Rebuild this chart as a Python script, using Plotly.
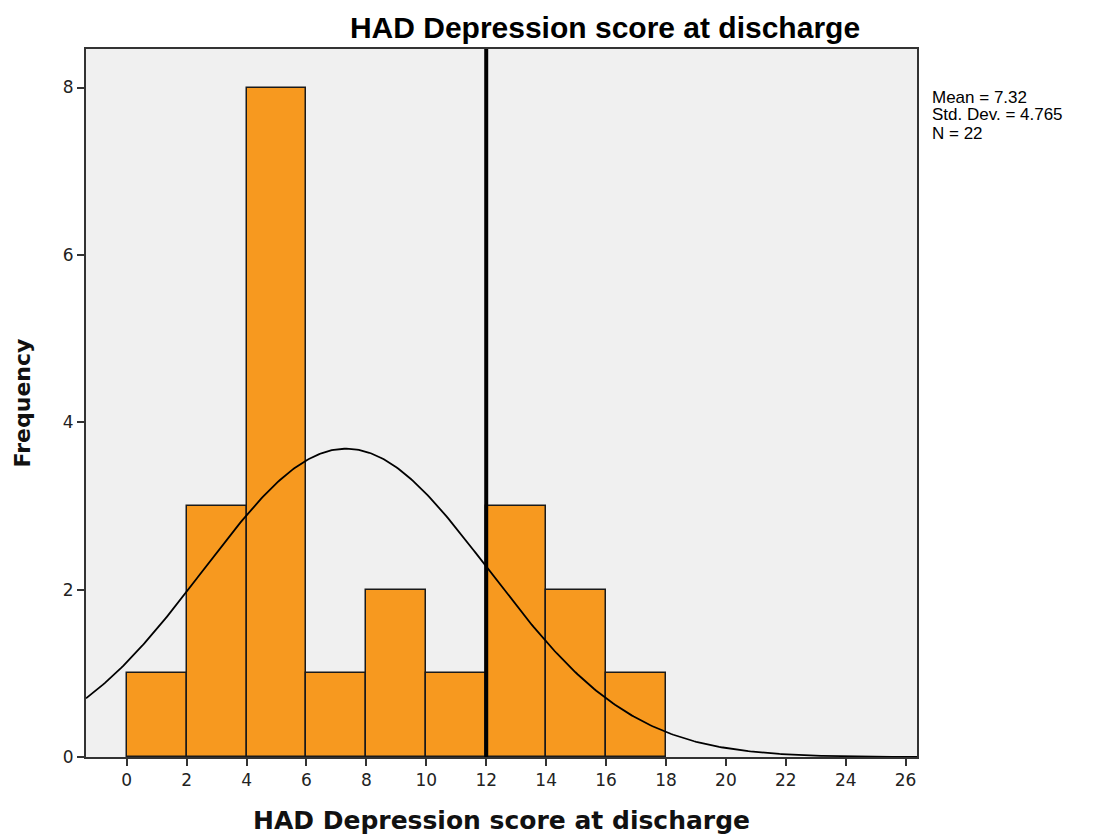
import numpy as np
import plotly.graph_objects as go

bin_starts = [0, 2, 4, 6, 8, 10, 12, 14, 16]
frequencies = [1, 3, 8, 1, 2, 1, 3, 2, 1]
bin_width = 2
mean_val = 7.32
std_val = 4.765
n_val = 22
ref_line_x = 12
x_ticks = list(range(0, 27, 2))
y_ticks = [0, 2, 4, 6, 8]
stats_lines = ["Mean = 7.32", "Std. Dev. = 4.765", "N = 22"]

x_min, x_max = -1.36, 26.38
y_max = 8.46

centers = [s + bin_width / 2 for s in bin_starts]

fig = go.Figure()
fig.add_trace(go.Bar(
    x=centers, y=frequencies, width=[bin_width] * len(centers),
    marker=dict(color="#f7991f", line=dict(color="#1a1a1a", width=1.5)),
    hoverinfo="skip", showlegend=False,
))

xs = np.linspace(x_min, x_max, 400)
ys = n_val * bin_width * np.exp(-0.5 * ((xs - mean_val) / std_val) ** 2) / (std_val * np.sqrt(2 * np.pi))
fig.add_trace(go.Scatter(x=xs, y=ys, mode="lines", line=dict(color="black", width=1.8),
                         hoverinfo="skip", showlegend=False))

fig.add_shape(type="line", x0=ref_line_x, x1=ref_line_x, y0=0, y1=1, yref="y domain",
              line=dict(color="black", width=4))

plot_top, plot_bottom = 49, 757
for i, line in enumerate(stats_lines):
    py = 97 + 18 * i
    fig.add_annotation(
        text=line, xref="paper", yref="paper",
        x=1.016, y=(plot_bottom - py) / (plot_bottom - plot_top),
        xanchor="left", yanchor="middle", align="left", showarrow=False,
        font=dict(family="Liberation Sans, Arial", size=17, color="black"),
    )

fig.update_layout(
    width=1101, height=838,
    margin=dict(l=86, r=184, t=49, b=81, autoexpand=False),
    paper_bgcolor="white", plot_bgcolor="#f0f0f0",
    bargap=0,
    title=dict(text="<b>HAD Depression score at discharge</b>", x=0.5495, xanchor="center",
               y=0.967, yanchor="middle",
               font=dict(family="Liberation Sans, Arial", size=30, color="black")),
    xaxis=dict(range=[x_min, x_max], tickvals=x_ticks, ticks="outside", ticklen=7, tickwidth=2,
               tickcolor="#333", showgrid=False, zeroline=False, showline=True, linecolor="#333",
               linewidth=2, mirror=True, automargin=False,
               tickfont=dict(family="DejaVu Sans", size=17, color="#222"),
               title=dict(text="<b>HAD Depression score at discharge</b>", standoff=22,
                          font=dict(family="DejaVu Sans", size=25, color="#111"))),
    yaxis=dict(range=[0, y_max], tickvals=y_ticks, ticks="outside", ticklen=7, tickwidth=2,
               tickcolor="#333", showgrid=False, zeroline=False, showline=True, linecolor="#333",
               linewidth=2, mirror=True, automargin=False,
               tickfont=dict(family="DejaVu Sans", size=17, color="#222"),
               title=dict(text="<b>Frequency</b>", standoff=26,
                          font=dict(family="DejaVu Sans", size=22, color="#111"))),
)

fig.write_html("out.html")
